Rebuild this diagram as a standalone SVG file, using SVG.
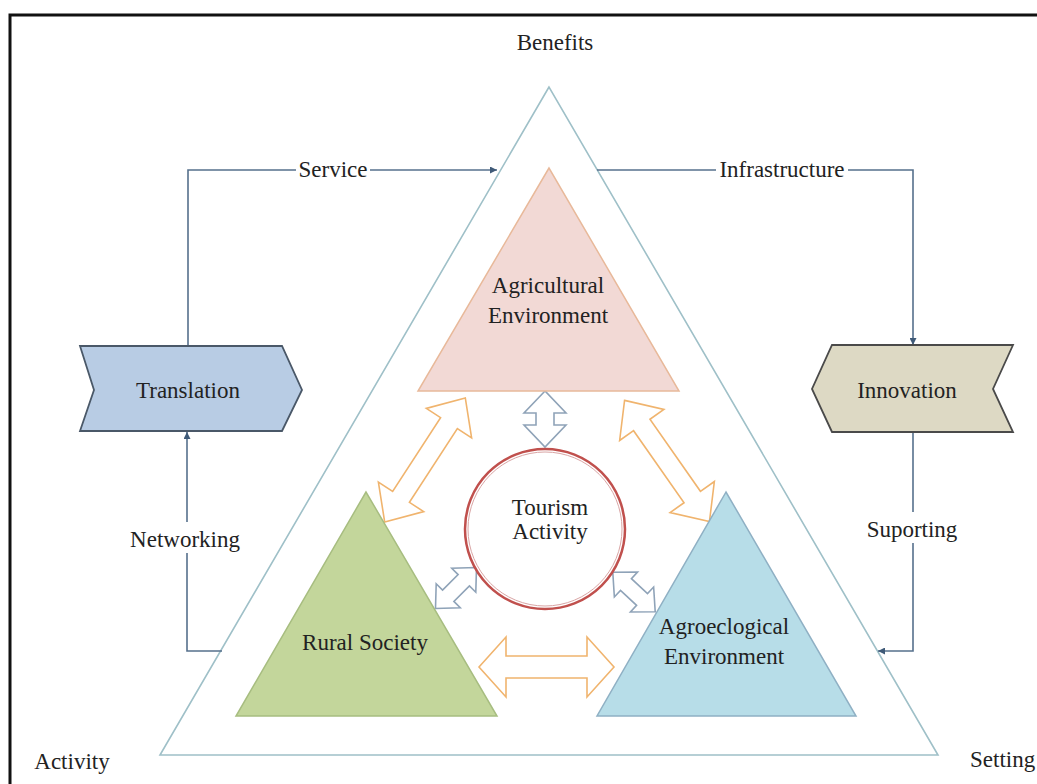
<svg xmlns="http://www.w3.org/2000/svg" width="1037" height="784" viewBox="0 0 1037 784">
<defs>
<style>
text{font-family:"Liberation Serif","Times New Roman",serif;font-size:23px;fill:#222;text-anchor:middle}
.conn{fill:none;stroke:#56708c;stroke-width:1.6}
.oar{fill:#fff;stroke:#f0b46e;stroke-width:1.6;stroke-linejoin:miter}
.bar{fill:#fff;stroke:#8fa3b8;stroke-width:1.6}
</style>
<marker id="ah" viewBox="0 0 10 10" refX="10" refY="5" markerWidth="9" markerHeight="7" markerUnits="userSpaceOnUse" orient="auto">
<path d="M0,0 L10,5 L0,10 Z" fill="#3f5a78"/>
</marker>
<path id="dbl" d="M-74,0 L-44,-27 L-44,-10 L44,-10 L44,-27 L74,0 L44,27 L44,10 L-44,10 L-44,27 Z"/>
<path id="sdbl" d="M-29,0 L-11,-17 L-11,-8 L11,-8 L11,-17 L29,0 L11,17 L11,8 L-11,8 L-11,17 Z"/>
</defs>
<rect width="1037" height="784" fill="#fff"/>
<path d="M10,784 V15 H1037" fill="none" stroke="#111" stroke-width="3"/>

<g id="outer-triangle">
<path d="M549,87 L160,755 L938,755 Z" fill="none" stroke="#9fc0c8" stroke-width="1.6"/>
</g>

<g id="connectors">
<path class="conn" d="M188,345 V170 H296"/>
<path class="conn" d="M370,170 H497" marker-end="url(#ah)"/>
<path class="conn" d="M597,170 H716"/>
<path class="conn" d="M848,170 H913 V345" marker-end="url(#ah)"/>
<path class="conn" d="M913,432 V512"/>
<path class="conn" d="M913,543 V651 H878" marker-end="url(#ah)"/>
<path class="conn" d="M222,651 H187 V553"/>
<path class="conn" d="M187,522 V432" marker-end="url(#ah)"/>
<text x="333" y="177">Service</text>
<text x="782" y="177">Infrastructure</text>
<text x="185" y="547">Networking</text>
<text x="912" y="537">Suporting</text>
<g id="orange-arrows">
<path class="oar" d="M479,667 L506,637 L506,656 L587,656 L587,637 L614,667 L587,697 L587,678 L506,678 L506,697 Z"/>
<use href="#dbl" class="oar" transform="translate(425,460) rotate(-57)"/>
<use href="#dbl" class="oar" transform="translate(667,461) rotate(55)"/>
</g>
<g id="blue-arrows">
<path class="bar" d="M545,391 L524,413 L536,413 L536,425 L524,425 L545,447 L566,425 L554,425 L554,413 L566,413 Z"/>
<use href="#sdbl" class="bar" transform="translate(456,588) rotate(-45)"/>
<use href="#sdbl" class="bar" transform="translate(634,592) rotate(43)"/>
</g>
</g>

<g id="benefits"><text x="555" y="50">Benefits</text></g>
<g id="activity"><text x="72" y="769">Activity</text></g>
<g id="setting"><text x="970" y="767" style="text-anchor:start">Setting</text></g>

<g id="translation">
<path d="M80,346 L282,346 L302,390 L282,431 L80,431 L94,390 Z" fill="#b8cce4" stroke="#4a5868" stroke-width="1.8"/>
<text x="188" y="398">Translation</text>
</g>

<g id="innovation">
<path d="M832,345 L1013,345 L993,389 L1013,432 L832,432 L812,389 Z" fill="#ddd9c4" stroke="#4a4a4a" stroke-width="1.8"/>
<text x="907" y="398">Innovation</text>
</g>

<g id="agricultural-environment">
<path d="M549,168 L418,391 L679,391 Z" fill="#f2d9d5" stroke="#e8b99a" stroke-width="1.5"/>
<text x="548" y="293">Agricultural</text>
<text x="548" y="323">Environment</text>
</g>

<g id="rural-society">
<path d="M366,492 L236,716 L497,716 Z" fill="#c3d69b" stroke="#a7bd80" stroke-width="1.5"/>
<text x="365" y="650">Rural Society</text>
</g>

<g id="agroecological-environment">
<path d="M726,492 L597,716 L856,716 Z" fill="#b7dde8" stroke="#8fb0c4" stroke-width="1.5"/>
<text x="724" y="634">Agroeclogical</text>
<text x="724" y="664">Environment</text>
</g>

<g id="tourism-activity">
<circle cx="545" cy="529" r="80" fill="#fff" stroke="#c0504d" stroke-width="2.5"/>
<circle cx="545" cy="529" r="77" fill="none" stroke="#d9a5a5" stroke-width="1"/>
<text x="550" y="515">Tourism</text>
<text x="550" y="539">Activity</text>
</g>
</svg>
